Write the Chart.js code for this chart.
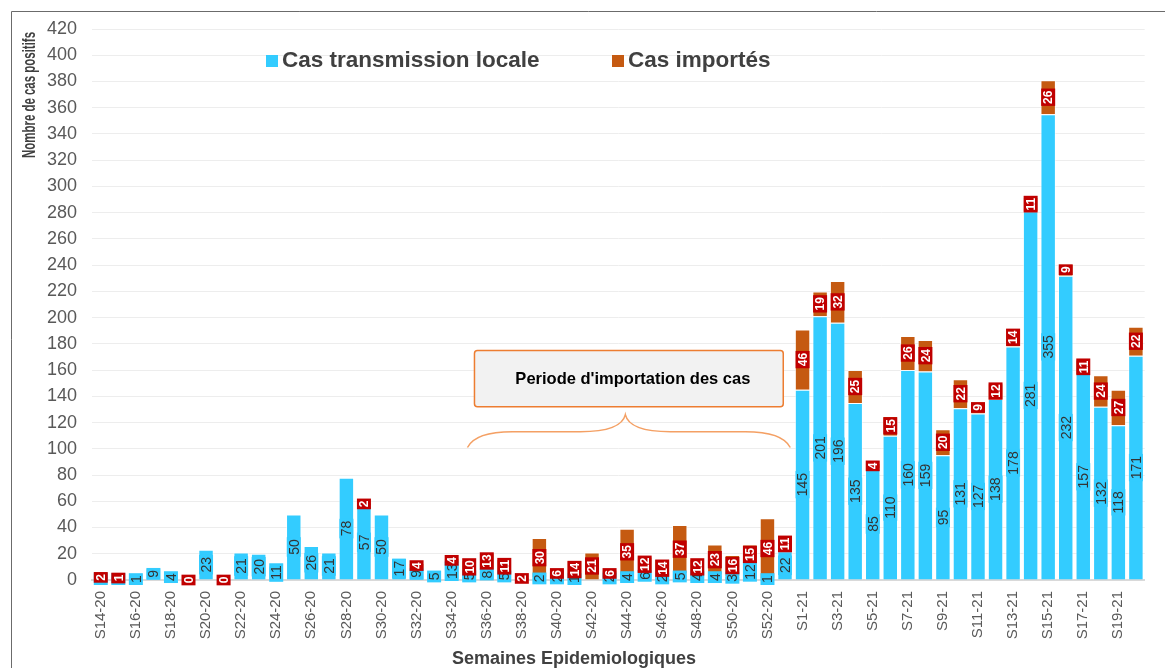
<!DOCTYPE html>
<html>
<head>
<meta charset="utf-8">
<script src="https://cdn.jsdelivr.net/npm/chart.js@4.4.1/dist/chart.umd.min.js"></script>
<style>
  html, body { margin: 0; padding: 0; background: #fff; }
  #wrap { width: 1165px; height: 668px; }
</style>
</head>
<body>
<div id="wrap"><canvas id="cas" width="1165" height="668"></canvas></div>
<script>
/* Cas positifs par semaine épidémiologique - transmission locale vs importés */
var weeks = [
  "S14-20", "S15-20", "S16-20", "S17-20", "S18-20", "S19-20", "S20-20", "S21-20", "S22-20", "S23-20",
  "S24-20", "S25-20", "S26-20", "S27-20", "S28-20", "S29-20", "S30-20", "S31-20", "S32-20", "S33-20",
  "S34-20", "S35-20", "S36-20", "S37-20", "S38-20", "S39-20", "S40-20", "S41-20", "S42-20", "S43-20",
  "S44-20", "S45-20", "S46-20", "S47-20", "S48-20", "S49-20", "S50-20", "S51-20", "S52-20", "S53-20",
  "S1-21", "S2-21", "S3-21", "S4-21", "S5-21", "S6-21", "S7-21", "S8-21", "S9-21", "S10-21",
  "S11-21", "S12-21", "S13-21", "S14-21", "S15-21", "S16-21", "S17-21", "S18-21", "S19-21", "S20-21"
];
var localCases = [
  1, 1, 1, 9, 4, 0, 23, 0, 21, 20,
  11, 50, 26, 21, 78, 57, 50, 17, 9, 5,
  13, 5, 8, 5, 0, 2, 2, 1, 0, 2,
  4, 6, 2, 5, 4, 4, 3, 12, 1, 22,
  145, 201, 196, 135, 85, 110, 160, 159, 95, 131,
  127, 138, 178, 281, 355, 232, 157, 132, 118, 171
];
var importedCases = [
  2, 1, 0, 0, 0, 0, 0, 0, 0, 0,
  0, 0, 0, 0, 0, 2, 0, 0, 4, 0,
  4, 10, 13, 11, 2, 30, 6, 14, 21, 6,
  35, 12, 14, 37, 12, 23, 16, 15, 46, 11,
  46, 19, 32, 25, 4, 15, 26, 24, 20, 22,
  9, 12, 14, 11, 26, 9, 11, 24, 27, 22
];
var yTicks = [0, 20, 40, 60, 80, 100, 120, 140, 160, 180, 200, 220, 240, 260, 280, 300, 320, 340, 360, 380, 400, 420];
var seriesNames = ["Cas transmission locale", "Cas importés"];

var BLUE = "#33CCFF";
var ORANGE = "#C55A11";
var RED = "#C00000";
var TXT = "#404040";
var FONT = "'Liberation Sans', Arial, sans-serif";

function tag(ctx, text, x, y, bg, fg, font) {
  ctx.save();
  ctx.translate(x, y);
  ctx.rotate(-Math.PI / 2);
  ctx.font = font;
  var w = ctx.measureText(text).width;
  ctx.fillStyle = bg;
  ctx.fillRect(-w / 2 - 2, -7, w + 4, 14);
  ctx.fillStyle = fg;
  ctx.textAlign = "center";
  ctx.textBaseline = "middle";
  ctx.fillText(text, 0, 1);
  ctx.restore();
}

var valueLabels = {
  id: "valueLabels",
  afterDatasetsDraw: function (chart) {
    var ctx = chart.ctx;
    var localMeta = chart.getDatasetMeta(0);
    var importMeta = chart.getDatasetMeta(1);
    localCases.forEach(function (v, i) {
      if (v <= 0) return;
      var bar = localMeta.data[i];
      tag(ctx, String(v), bar.x, (bar.y + bar.base) / 2, BLUE, "#333333", "14px " + FONT);
    });
    importedCases.forEach(function (v, i) {
      if (v <= 0 && localCases[i] > 0) return;
      var bar = importMeta.data[i];
      tag(ctx, String(v), bar.x, (bar.y + bar.base) / 2, RED, "#ffffff", "bold 12px " + FONT);
    });
  }
};

var decorations = {
  id: "decorations",
  afterDraw: function (chart) {
    var ctx = chart.ctx;
    var x = chart.scales.x;
    var y = chart.scales.y;
    var area = chart.chartArea;
    ctx.save();

    // cadre de l'image
    ctx.strokeStyle = "#6b6b6b";
    ctx.lineWidth = 1;
    ctx.beginPath();
    ctx.moveTo(11.5, 668);
    ctx.lineTo(11.5, 11.5);
    ctx.lineTo(1165, 11.5);
    ctx.stroke();

    // légende
    ctx.font = "bold 22.5px " + FONT;
    ctx.textBaseline = "middle";
    ctx.textAlign = "left";
    ctx.fillStyle = BLUE;
    ctx.fillRect(266, 55, 12, 12);
    ctx.fillStyle = TXT;
    ctx.fillText(seriesNames[0], 282, 61);
    ctx.fillStyle = ORANGE;
    ctx.fillRect(612, 55, 12, 12);
    ctx.fillStyle = TXT;
    ctx.fillText(seriesNames[1], 628, 61);

    // titres des axes
    ctx.font = "bold 17.5px " + FONT;
    ctx.save();
    ctx.translate(30, area.top + 3);
    ctx.rotate(-Math.PI / 2);
    var tw = ctx.measureText("Nombre de cas positifs").width;
    ctx.scale(126 / tw, 1);
    ctx.textAlign = "right";
    ctx.fillText("Nombre de cas positifs", 0, 0);
    ctx.restore();
    ctx.font = "bold 18px " + FONT;
    ctx.textAlign = "center";
    ctx.fillText("Semaines Epidemiologiques", 574, 659);

    // encadré "Periode d'importation des cas"
    var bx1 = x.getPixelForValue(21.3), bx2 = x.getPixelForValue(38.9);
    var by1 = y.getPixelForValue(175), by2 = y.getPixelForValue(132);
    ctx.beginPath();
    ctx.roundRect(bx1, by1, bx2 - bx1, by2 - by1, 3);
    ctx.fillStyle = "#F2F2F2";
    ctx.fill();
    ctx.strokeStyle = "#ED7D31";
    ctx.lineWidth = 1.5;
    ctx.stroke();
    ctx.fillStyle = "#000000";
    ctx.font = "bold 16.5px " + FONT;
    ctx.fillText("Periode d'importation des cas", (bx1 + bx2) / 2 + 4, (by1 + by2) / 2 + 1);

    // accolade
    var L = x.getPixelForValue(20.9), R = x.getPixelForValue(39.3), C = x.getPixelForValue(29.9);
    var yb = y.getPixelForValue(101), ym = y.getPixelForValue(113), yt = y.getPixelForValue(126);
    var r = 45;
    ctx.beginPath();
    ctx.moveTo(L, yb);
    ctx.quadraticCurveTo(L + 8, ym, L + r, ym);
    ctx.lineTo(C - r, ym);
    ctx.quadraticCurveTo(C - 4, ym, C, yt);
    ctx.quadraticCurveTo(C + 4, ym, C + r, ym);
    ctx.lineTo(R - r, ym);
    ctx.quadraticCurveTo(R - 8, ym, R, yb);
    ctx.strokeStyle = "#F4A064";
    ctx.lineWidth = 1.5;
    ctx.stroke();
    ctx.restore();
  }
};

new Chart(document.getElementById("cas"), {
  type: "bar",
  data: {
    labels: weeks,
    datasets: [
      { label: seriesNames[0], data: localCases, backgroundColor: BLUE, borderColor: "rgba(255,255,255,0.55)", borderWidth: 1 },
      { label: seriesNames[1], data: importedCases, backgroundColor: ORANGE, borderColor: "rgba(255,255,255,0.55)", borderWidth: 1 }
    ]
  },
  options: {
    responsive: false,
    animation: false,
    devicePixelRatio: 1,
    layout: { padding: { top: 29, right: 12, left: 0, bottom: 0 } },
    datasets: { bar: { categoryPercentage: 1, barPercentage: 0.88 } },
    plugins: { legend: { display: false }, tooltip: { enabled: false } },
    scales: {
      x: {
        stacked: true,
        grid: { display: false, drawTicks: false },
        border: { display: true, color: "#D9D9D9", width: 2 },
        afterFit: function (scale) { scale.height = 88; },
        ticks: {
          autoSkip: false,
          minRotation: 90,
          maxRotation: 90,
          padding: 11,
          color: "#595959",
          font: { size: 15, family: FONT },
          callback: function (value, index) { return index % 2 === 0 ? weeks[index] : ""; }
        }
      },
      y: {
        stacked: true,
        min: yTicks[0],
        max: yTicks[yTicks.length - 1],
        grid: { color: "#EDEDED", drawTicks: false },
        border: { display: false },
        afterFit: function (scale) { scale.width = 92; },
        afterBuildTicks: function (scale) { scale.ticks = yTicks.map(function (v) { return { value: v }; }); },
        ticks: { padding: 15, color: "#595959", font: { size: 18, family: FONT } }
      }
    }
  },
  plugins: [valueLabels, decorations]
});
</script>
</body>
</html>
